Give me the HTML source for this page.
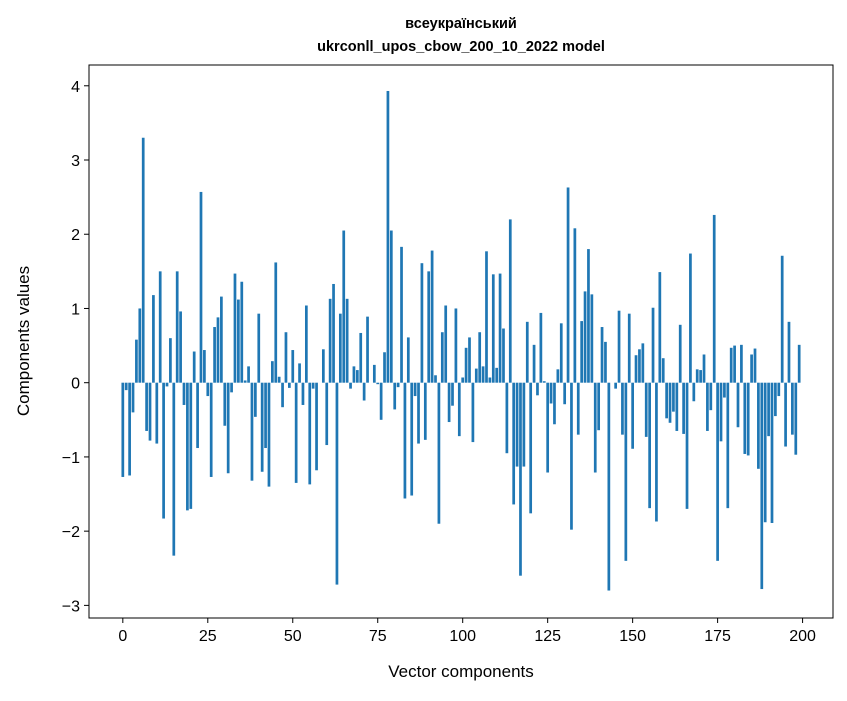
<!DOCTYPE html>
<html><head><meta charset="utf-8"><style>
body{margin:0;background:#fff;font-family:"Liberation Sans","DejaVu Sans",sans-serif;}
</style></head><body>
<svg width="847" height="696" xmlns="http://www.w3.org/2000/svg" font-family="Liberation Sans, DejaVu Sans, sans-serif">
<text x="461" y="28" text-anchor="middle" font-size="14.5" font-weight="bold">всеукраїнський</text>
<text x="461" y="51" text-anchor="middle" font-size="14.5" font-weight="bold">ukrconll_upos_cbow_200_10_2022 model</text>
<g id="bars"></g>
<g id="axes"></g>
<rect x="89" y="65" width="744" height="553" fill="none" stroke="#000" stroke-width="1"/>
<text x="461" y="677" text-anchor="middle" font-size="17">Vector components</text>
<text transform="translate(29,341) rotate(-90)" text-anchor="middle" font-size="17">Components values</text>
</svg>
<script>
const values=[-1.27,-0.1,-1.25,-0.4,0.58,1.0,3.3,-0.65,-0.78,1.18,-0.82,1.5,-1.83,-0.05,0.6,-2.33,1.5,0.96,-0.3,-1.72,-1.7,0.42,-0.88,2.57,0.44,-0.18,-1.27,0.75,0.88,1.16,-0.58,-1.22,-0.13,1.47,1.12,1.36,0.03,0.22,-1.32,-0.46,0.93,-1.2,-0.88,-1.4,0.29,1.62,0.08,-0.33,0.68,-0.07,0.44,-1.35,0.26,-0.3,1.04,-1.37,-0.08,-1.18,0.0,0.45,-0.84,1.13,1.33,-2.72,0.93,2.05,1.13,-0.08,0.22,0.17,0.67,-0.24,0.89,0.0,0.24,-0.02,-0.5,0.41,3.93,2.05,-0.36,-0.06,1.83,-1.56,0.61,-1.52,-0.18,-0.82,1.61,-0.77,1.5,1.78,0.1,-1.9,0.68,1.04,-0.53,-0.31,1.0,-0.72,0.07,0.47,0.61,-0.8,0.19,0.68,0.22,1.77,0.07,1.46,0.2,1.47,0.73,-0.95,2.2,-1.64,-1.13,-2.6,-1.13,0.82,-1.76,0.51,-0.17,0.94,0.02,-1.21,-0.28,-0.56,0.18,0.8,-0.29,2.63,-1.98,2.08,-0.7,0.83,1.23,1.8,1.19,-1.21,-0.64,0.75,0.55,-2.8,0.0,-0.08,0.97,-0.7,-2.4,0.93,-0.89,0.37,0.45,0.53,-0.73,-1.69,1.01,-1.87,1.49,0.33,-0.48,-0.54,-0.39,-0.65,0.78,-0.69,-1.7,1.74,-0.25,0.18,0.17,0.38,-0.65,-0.37,2.26,-2.4,-0.79,-0.2,-1.69,0.47,0.5,-0.6,0.51,-0.96,-0.98,0.38,0.46,-1.16,-2.78,-1.88,-0.72,-1.89,-0.45,-0.18,1.71,-0.86,0.82,-0.7,-0.97,0.51];
const xTicks=[0,25,50,75,100,125,150,175,200];
const yTicks=[-3,-2,-1,0,1,2,3,4];
const NS="http://www.w3.org/2000/svg";
const X0=89,X1=833,Y0=65,Y1=618,XMIN=-9.95,XMAX=208.95,YMIN=-3.17,YMAX=4.28;
const xs=v=>X0+(v-XMIN)/(XMAX-XMIN)*(X1-X0);
const ys=v=>Y1-(v-YMIN)/(YMAX-YMIN)*(Y1-Y0);
const bars=document.getElementById('bars');
values.forEach((v,i)=>{
 const r=document.createElementNS(NS,'rect');
 
 
 const a=xs(i-0.4),b=xs(i+0.4);
 r.setAttribute('x',a);r.setAttribute('width',b-a);
 r.setAttribute('y',Math.min(ys(v),ys(0)));r.setAttribute('height',Math.abs(ys(v)-ys(0)));
 r.setAttribute('fill','#1f77b4');
 bars.appendChild(r);
});
const axes=document.getElementById('axes');
xTicks.forEach(t=>{
 const l=document.createElementNS(NS,'line');
 
 
 l.setAttribute('x1',xs(t));l.setAttribute('x2',xs(t));l.setAttribute('y1',Y1);l.setAttribute('y2',Y1+5);l.setAttribute('stroke','#000');
 axes.appendChild(l);
 const tx=document.createElementNS(NS,'text');
 
 
 tx.setAttribute('x',xs(t));tx.setAttribute('y',Y1+23);tx.setAttribute('text-anchor','middle');tx.setAttribute('font-size','16');
 tx.textContent=t;axes.appendChild(tx);
});
yTicks.forEach(t=>{
 const l=document.createElementNS(NS,'line');
 
 
 l.setAttribute('x1',X0-5);l.setAttribute('x2',X0);l.setAttribute('y1',ys(t));l.setAttribute('y2',ys(t));l.setAttribute('stroke','#000');
 axes.appendChild(l);
 const tx=document.createElementNS(NS,'text');
 
 
 tx.setAttribute('x',X0-9);tx.setAttribute('y',ys(t)+6);tx.setAttribute('text-anchor','end');tx.setAttribute('font-size','16');
 tx.textContent=t<0?'\u2212'+(-t):t;axes.appendChild(tx);
});
</script>
</body></html>
